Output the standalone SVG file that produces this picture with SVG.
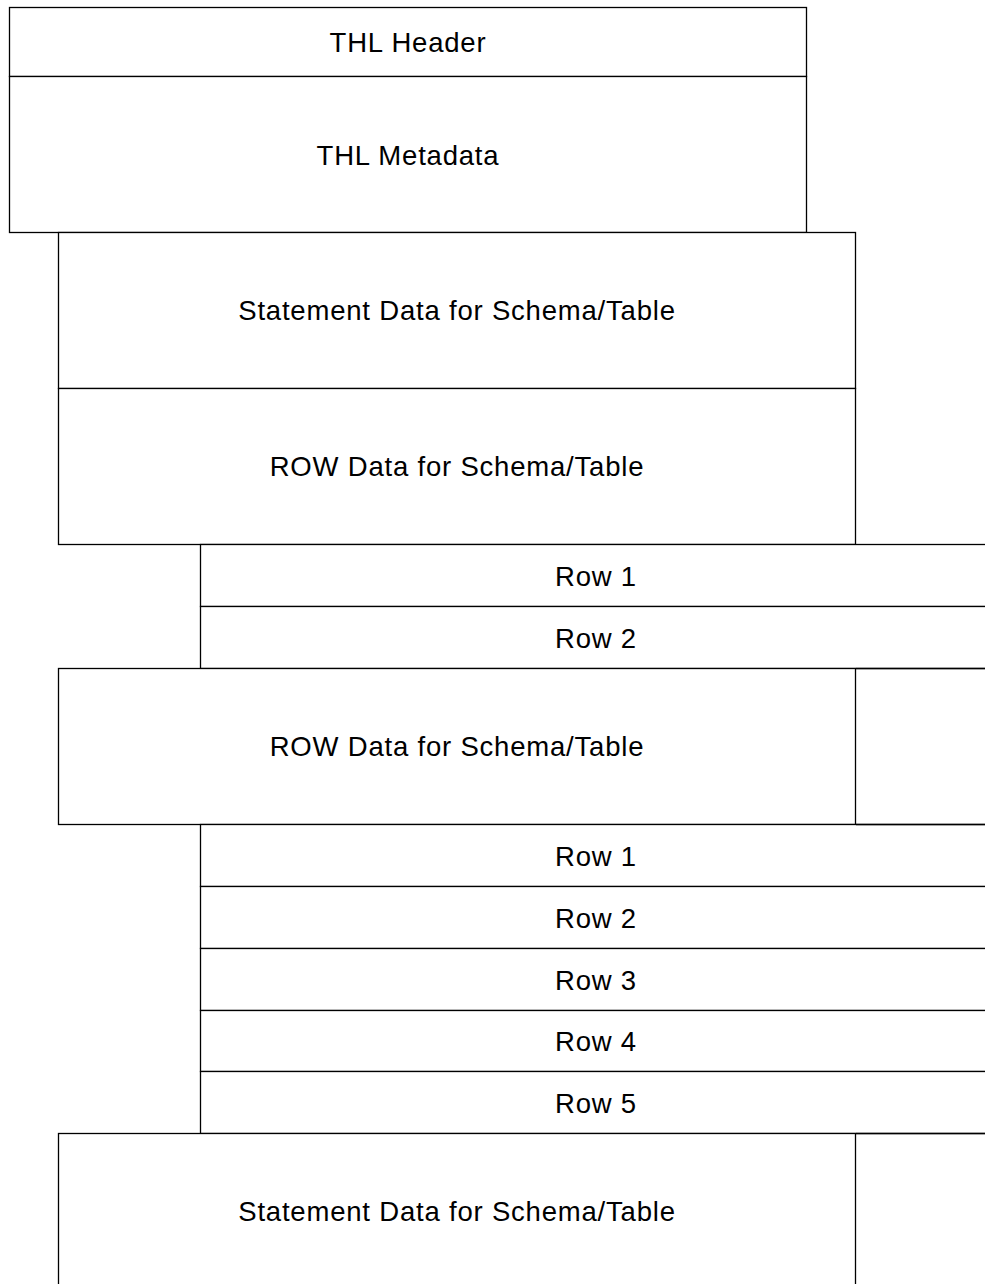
<svg xmlns="http://www.w3.org/2000/svg" width="985" height="1284" viewBox="0 0 985 1284">
<style>
rect{fill:#fff;stroke:#000;stroke-width:1.3}
line{stroke:#000;stroke-width:1.3}
text{font-family:"Liberation Sans",Arial,sans-serif;font-size:27.5px;letter-spacing:0.8px;fill:#000;text-anchor:middle}
</style>
<rect x="0" y="0" width="985" height="1284" style="stroke:none"/>
<g id="thl-header"><rect x="9.5" y="7.5" width="797" height="69"/><text x="408" y="52">THL Header</text></g>
<g id="thl-metadata"><rect x="9.5" y="76.5" width="797" height="156"/><text x="408" y="165">THL Metadata</text></g>
<g id="statement-1"><rect x="58.5" y="232.5" width="797" height="156"/><text x="457" y="320">Statement Data for Schema/Table</text></g>
<g id="rowdata-1"><rect x="58.5" y="388.5" width="797" height="156"/><text x="457" y="476">ROW Data for Schema/Table</text></g>
<g id="row-1-1"><rect x="200.5" y="544.5" width="792" height="62"/><text x="596" y="586">Row 1</text></g>
<g id="row-1-2"><rect x="200.5" y="606.5" width="792" height="62"/><text x="596" y="648">Row 2</text></g>
<g id="rowdata-2"><rect x="58.5" y="668.5" width="797" height="156"/><text x="457" y="756">ROW Data for Schema/Table</text></g>
<g id="row-2-1"><rect x="200.5" y="824.5" width="792" height="62"/><text x="596" y="866">Row 1</text></g>
<g id="row-2-2"><rect x="200.5" y="886.5" width="792" height="62"/><text x="596" y="928">Row 2</text></g>
<g id="row-2-3"><rect x="200.5" y="948.5" width="792" height="62"/><text x="596" y="990">Row 3</text></g>
<g id="row-2-4"><rect x="200.5" y="1010.5" width="792" height="61"/><text x="596" y="1051">Row 4</text></g>
<g id="row-2-5"><rect x="200.5" y="1071.5" width="792" height="62"/><text x="596" y="1113">Row 5</text></g>
<g id="statement-2"><rect x="58.5" y="1133.5" width="797" height="160"/><text x="457" y="1221">Statement Data for Schema/Table</text></g>
<g id="connectors">
<line x1="856" y1="668.5" x2="992" y2="668.5"/>
<line x1="856" y1="824.5" x2="992" y2="824.5"/>
<line x1="856" y1="1133.5" x2="992" y2="1133.5"/>
</g>
</svg>
